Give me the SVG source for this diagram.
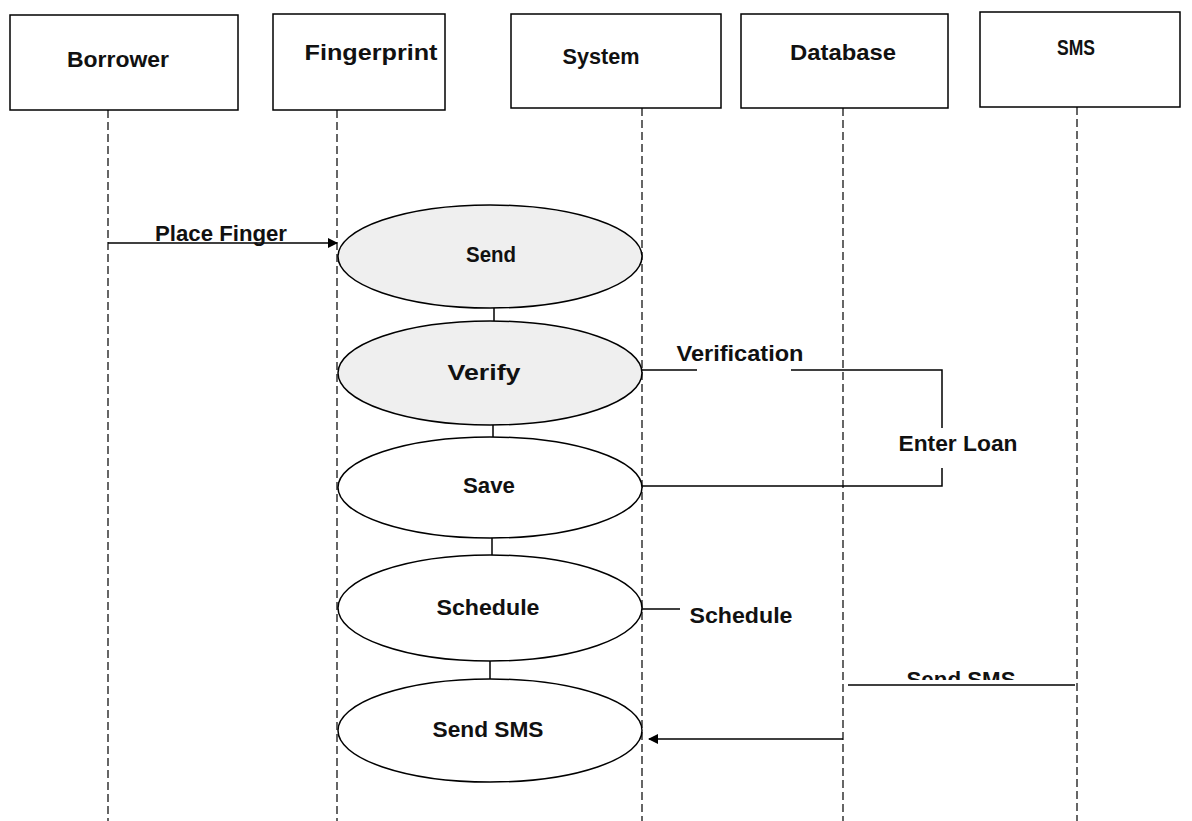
<svg xmlns="http://www.w3.org/2000/svg" width="1192" height="821" viewBox="0 0 1192 821">
<style>
.box{fill:#fff;stroke:#000;stroke-width:1.5}
.life{stroke:#000;stroke-width:1.2;stroke-dasharray:8 4;fill:none}
.act{stroke:#000;stroke-width:1.5}
.gray{fill:#efefef}
.white{fill:#fff}
.ln{stroke:#000;stroke-width:1.5;fill:none}
text{font-family:"Liberation Sans",Arial,sans-serif;font-weight:bold;font-size:22px;fill:#111;text-anchor:middle}
</style>
<defs>
<marker id="arr" markerWidth="10" markerHeight="10" refX="9" refY="5" orient="auto" markerUnits="userSpaceOnUse">
<path d="M0,0 L10,5 L0,10 Z" fill="#000"/>
</marker>
<clipPath id="clipSms"><rect x="880" y="650" width="160" height="30"/></clipPath>
</defs>
<rect width="1192" height="821" fill="#fff"/>
<g id="lifelines">
<line class="life" x1="108" y1="110" x2="108" y2="821"/>
<line class="life" x1="337" y1="110" x2="337" y2="821"/>
<line class="life" x1="642" y1="108" x2="642" y2="821"/>
<line class="life" x1="843" y1="108" x2="843" y2="821"/>
<line class="life" x1="1077" y1="107" x2="1077" y2="821"/>
</g>
<g id="borrower"><rect class="box" x="10" y="15" width="228" height="95"/><text x="118" y="67" textLength="102" lengthAdjust="spacingAndGlyphs">Borrower</text></g>
<g id="fingerprint"><rect class="box" x="273" y="14" width="172" height="96"/><text x="371" y="60" textLength="133" lengthAdjust="spacingAndGlyphs">Fingerprint</text></g>
<g id="system"><rect class="box" x="511" y="14" width="210" height="94"/><text x="601" y="64" textLength="77" lengthAdjust="spacingAndGlyphs">System</text></g>
<g id="database"><rect class="box" x="741" y="14" width="207" height="94"/><text x="843" y="60" textLength="106" lengthAdjust="spacingAndGlyphs">Database</text></g>
<g id="sms"><rect class="box" x="980" y="12" width="200" height="95"/><text x="1076" y="55" textLength="38" lengthAdjust="spacingAndGlyphs">SMS</text></g>
<g id="connectors">
<line class="ln" x1="108" y1="243" x2="337" y2="243" marker-end="url(#arr)"/>
<line class="ln" x1="494" y1="308" x2="494" y2="321"/>
<line class="ln" x1="493" y1="425" x2="493" y2="437"/>
<line class="ln" x1="492" y1="538" x2="492" y2="555"/>
<line class="ln" x1="490" y1="661" x2="490" y2="679"/>
<polyline class="ln" points="642,370 697,370"/>
<polyline class="ln" points="791,370 942,370 942,428"/>
<polyline class="ln" points="942,468 942,486 642,486"/>
<line class="ln" x1="642" y1="609" x2="680" y2="609"/>
<line class="ln" x1="848" y1="685" x2="1075" y2="685"/>
<line class="ln" x1="843" y1="739" x2="649" y2="739" marker-end="url(#arr)"/>
</g>
<g id="labels">
<text x="221" y="241" textLength="132" lengthAdjust="spacingAndGlyphs">Place Finger</text>
<text x="740" y="361" textLength="127" lengthAdjust="spacingAndGlyphs">Verification</text>
<text x="958" y="451" textLength="119" lengthAdjust="spacingAndGlyphs">Enter Loan</text>
<text x="741" y="623" textLength="103" lengthAdjust="spacingAndGlyphs">Schedule</text>
<text x="961" y="687" textLength="109" lengthAdjust="spacingAndGlyphs" clip-path="url(#clipSms)">Send SMS</text>
</g>
<g id="send"><ellipse class="act gray" cx="490" cy="256.5" rx="152" ry="51.5"/><text x="491" y="262" textLength="50" lengthAdjust="spacingAndGlyphs">Send</text></g>
<g id="verify"><ellipse class="act gray" cx="490" cy="373" rx="152" ry="52"/><text x="484" y="380" textLength="73" lengthAdjust="spacingAndGlyphs">Verify</text></g>
<g id="save"><ellipse class="act white" cx="490" cy="487.5" rx="152" ry="50.5"/><text x="489" y="493" textLength="52" lengthAdjust="spacingAndGlyphs">Save</text></g>
<g id="schedule"><ellipse class="act white" cx="490" cy="608" rx="152" ry="53"/><text x="488" y="615" textLength="103" lengthAdjust="spacingAndGlyphs">Schedule</text></g>
<g id="sendsms"><ellipse class="act white" cx="490" cy="730.5" rx="152" ry="51.5"/><text x="488" y="737" textLength="111" lengthAdjust="spacingAndGlyphs">Send SMS</text></g>
</svg>
